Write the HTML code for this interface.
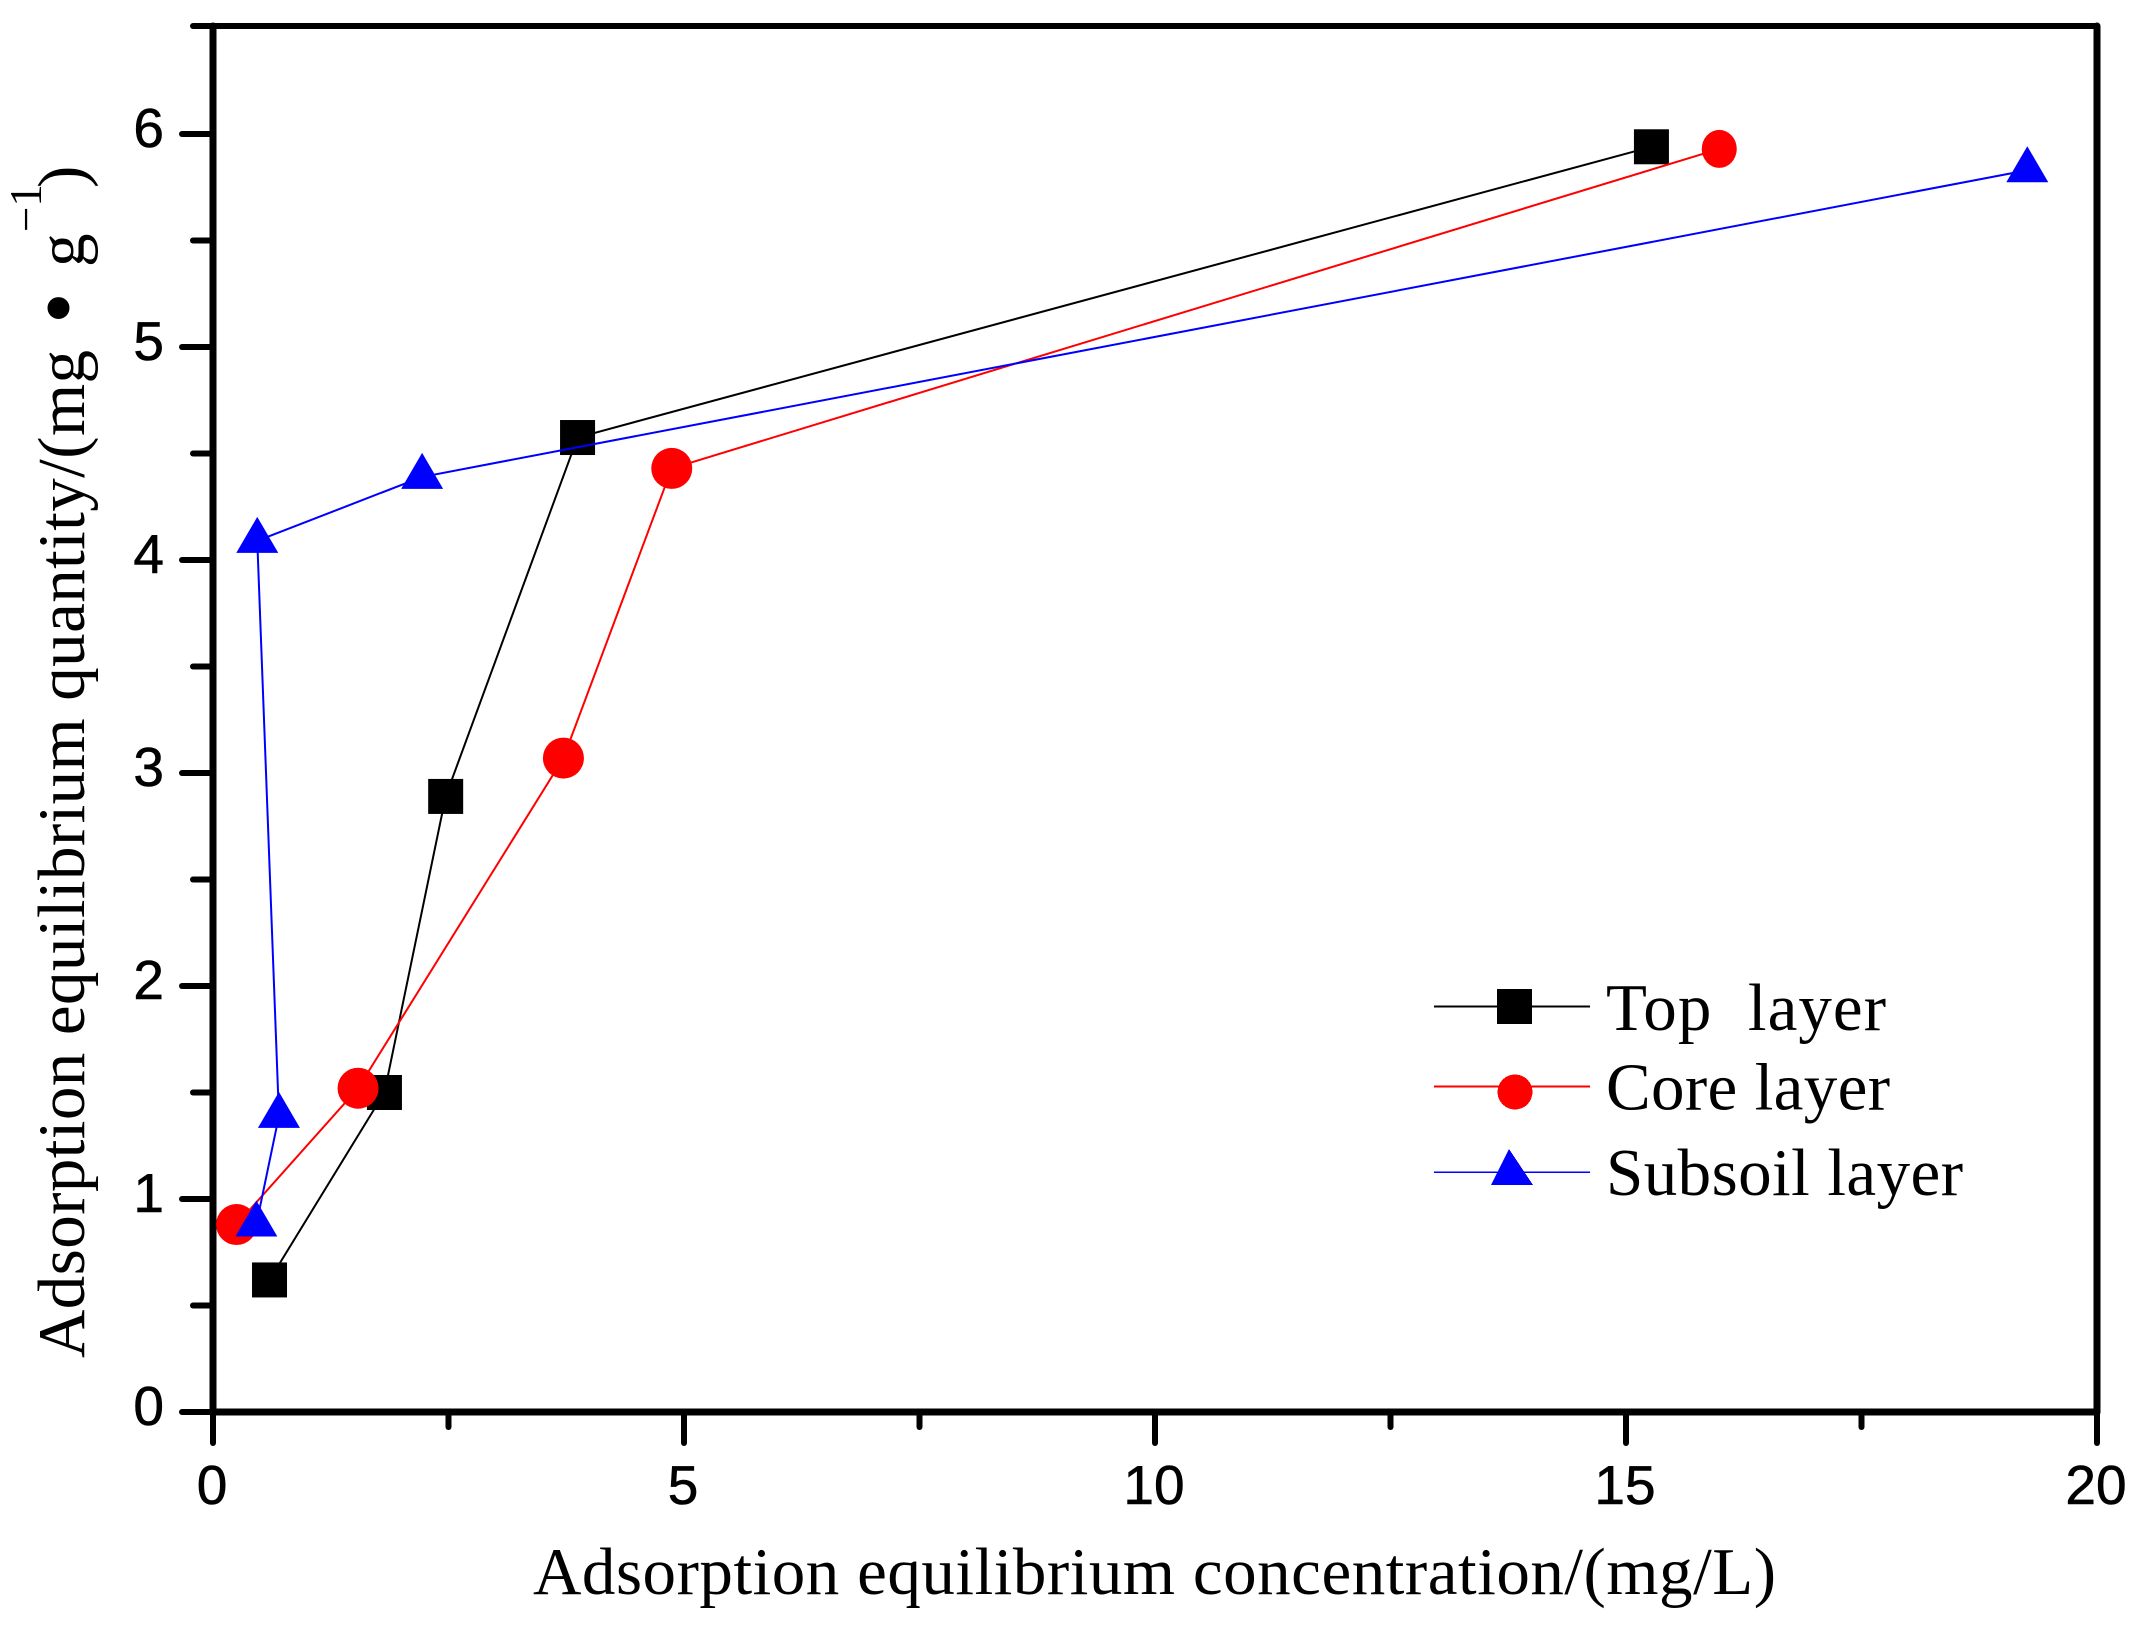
<!DOCTYPE html>
<html lang="en">
<head>
<meta charset="utf-8">
<title>Adsorption equilibrium chart</title>
<style>
  html, body { margin: 0; padding: 0; background: #fff; }
  body { width: 2145px; height: 1626px; overflow: hidden; }
  svg { display: block; }
  .serif { font-family: "Liberation Serif", serif; fill: #000; }
  .sans { font-family: "Liberation Sans", sans-serif; fill: #000; font-size: 55px; stroke: #000; stroke-width: 0.6px; }
</style>
</head>
<body>
<svg id="chart" xmlns="http://www.w3.org/2000/svg" width="2145" height="1626" viewBox="0 0 2145 1626">
  <g id="grid-axes"></g>
  <g id="series-layer"></g>

  <text class="serif" x="533" y="1594" font-size="67" textLength="1243" lengthAdjust="spacing">Adsorption equilibrium concentration/(mg/L)</text>

  <g>
    <text class="serif" transform="translate(84,1358) rotate(-90)" font-size="67" textLength="1008" lengthAdjust="spacing">Adsorption equilibrium quantity/(mg</text>
    <text class="serif" transform="translate(89,308) rotate(-90)" font-size="92" text-anchor="middle">•</text>
    <text class="serif" transform="translate(84,267) rotate(-90)" font-size="67">g</text>
    <text class="serif" transform="translate(41,232) rotate(-90)" font-size="45">−1</text>
    <text class="serif" transform="translate(84,188) rotate(-90)" font-size="67">)</text>
  </g>

  <g shape-rendering="crispEdges">
    <g>
      <line x1="1434" y1="1006.5" x2="1590" y2="1006.5" stroke="#000" stroke-width="2"></line>
      <rect x="1497" y="989" width="35" height="35" fill="#000"></rect>
      <text class="serif" x="1606" y="1030" font-size="67" textLength="280" lengthAdjust="spacing" xml:space="preserve">Top  layer</text>
    </g>
    <g>
      <line x1="1434" y1="1086.5" x2="1590" y2="1086.5" stroke="#f00" stroke-width="2"></line>
      <ellipse cx="1515" cy="1092" rx="17.5" ry="17.5" fill="#f00"></ellipse>
      <text class="serif" x="1606" y="1109.5" font-size="67" textLength="284" lengthAdjust="spacing">Core layer</text>
    </g>
    <g>
      <line x1="1434" y1="1172" x2="1590" y2="1172" stroke="#00f" stroke-width="1.5"></line>
      <polygon points="1509,1149 1533,1185 1491,1185" fill="#00f"></polygon>
      <text class="serif" x="1606" y="1195" font-size="67" textLength="357" lengthAdjust="spacing">Subsoil layer</text>
    </g>
  </g>
</svg>
<script>
// Chart data
const xMajorTicks = [0, 5, 10, 15, 20];
const xMinorTicks = [2.5, 7.5, 12.5, 17.5];
const yMajorTicks = [0, 1, 2, 3, 4, 5, 6];
const yMinorTicks = [0.5, 1.5, 2.5, 3.5, 4.5, 5.5];
const xTickLabels = ['0', '5', '10', '15', '20'];
const yTickLabels = ['0', '1', '2', '3', '4', '5', '6'];

const topLayerX = [0.60, 1.82, 2.47, 3.87, 15.27];
const topLayerY = [0.62, 1.50, 2.89, 4.575, 5.94];
const coreLayerX = [0.25, 1.54, 3.72, 4.87, 15.99];
const coreLayerY = [0.88, 1.52, 3.07, 4.43, 5.93];
const subsoilLayerX = [0.46, 0.70, 0.47, 2.22, 19.26];
const subsoilLayerY = [0.88, 1.39, 4.09, 4.39, 5.83];

const xMin = 0, xMax = 20, yMin = 0, yMax = 6.5;

// Axis functions
function xScale(v) { return 213 + (v - xMin) * (2097 - 213) / (xMax - xMin); }
function yScale(v) { return 1412 - (v - yMin) * 213; }

const NS = 'http://www.w3.org/2000/svg';
const axes = document.getElementById('grid-axes');
const seriesLayer = document.getElementById('series-layer');

function svgEl(tag, attrs) {
  const el = document.createElementNS(NS, tag);
  for (const k in attrs) el.setAttribute(k, attrs[k]);
  return el;
}
function axisLine(x1, y1, x2, y2, width) {
  return svgEl('line', { x1: x1, y1: y1, x2: x2, y2: y2, stroke: '#000', 'stroke-width': width, 'stroke-linecap': 'round' });
}

// Frame
const x0 = xScale(xMin), x1 = xScale(xMax), y0 = yScale(yMin), y1 = yScale(yMax) - 1.5;

const leftAxis = axisLine(x0, y1, x0, y0, 7);


axes.appendChild(leftAxis);

const bottomAxis = axisLine(x0, y0, x1, y0, 7);


axes.appendChild(bottomAxis);

const topAxis = axisLine(x0 - 20, y1, x1, y1, 6);


axes.appendChild(topAxis);

const rightAxis = axisLine(x1, y1, x1, y0, 7);


axes.appendChild(rightAxis);

// X ticks
xMajorTicks.forEach(function (t, i) {
  const tick = axisLine(xScale(t), y0, xScale(t), y0 + 31, 6);
  
  
  axes.appendChild(tick);
  const label = svgEl('text', { x: xScale(t) - 1, y: 1504, 'text-anchor': 'middle', class: 'sans' });
  label.textContent = xTickLabels[i];
  
  
  axes.appendChild(label);
});
xMinorTicks.forEach(function (t) {
  const tick = axisLine(xScale(t), y0, xScale(t), y0 + 15, 6);
  
  
  axes.appendChild(tick);
});

// Y ticks
yMajorTicks.forEach(function (t, i) {
  const tick = axisLine(x0 - 31, yScale(t), x0, yScale(t), 6);
  
  
  axes.appendChild(tick);
  const label = svgEl('text', { x: 164, y: yScale(t) + 13, 'text-anchor': 'end', class: 'sans' });
  label.textContent = yTickLabels[i];
  
  
  axes.appendChild(label);
});
yMinorTicks.forEach(function (t) {
  const tick = axisLine(x0 - 20, yScale(t), x0, yScale(t), 6);
  
  
  axes.appendChild(tick);
});

// Series
function drawLine(xs, ys, color, width) {
  const pts = xs.map(function (x, i) { return xScale(x) + ',' + yScale(ys[i]); }).join(' ');
  return svgEl('polyline', { points: pts, fill: 'none', stroke: color, 'stroke-width': width });
}

// Top layer: squares
const topLine = drawLine(topLayerX, topLayerY, '#000', 2);


seriesLayer.appendChild(topLine);
topLayerX.forEach(function (x, i) {
  const m = svgEl('rect', { x: xScale(x) - 17.5, y: yScale(topLayerY[i]) - 17.5, width: 35, height: 35, fill: '#000' });
  
  
  seriesLayer.appendChild(m);
});

// Core layer: circles
const coreLine = drawLine(coreLayerX, coreLayerY, '#f00', 2);


seriesLayer.appendChild(coreLine);
coreLayerX.forEach(function (x, i) {
  const big = x < 10;
  const m = svgEl('ellipse', { cx: xScale(x), cy: yScale(coreLayerY[i]), rx: big ? 20.5 : 17.5, ry: big ? 20.5 : 19, fill: '#f00' });
  
  
  seriesLayer.appendChild(m);
});

// Subsoil layer: triangles, with the data point at the centroid
const subsoilLine = drawLine(subsoilLayerX, subsoilLayerY, '#00f', 2);


seriesLayer.appendChild(subsoilLine);
subsoilLayerX.forEach(function (x, i) {
  const cx = xScale(x), cy = yScale(subsoilLayerY[i]);
  const m = svgEl('polygon', { points: cx + ',' + (cy - 24) + ' ' + (cx + 21) + ',' + (cy + 12) + ' ' + (cx - 21) + ',' + (cy + 12), fill: '#00f' });
  
  
  seriesLayer.appendChild(m);
});
</script>
</body>
</html>
